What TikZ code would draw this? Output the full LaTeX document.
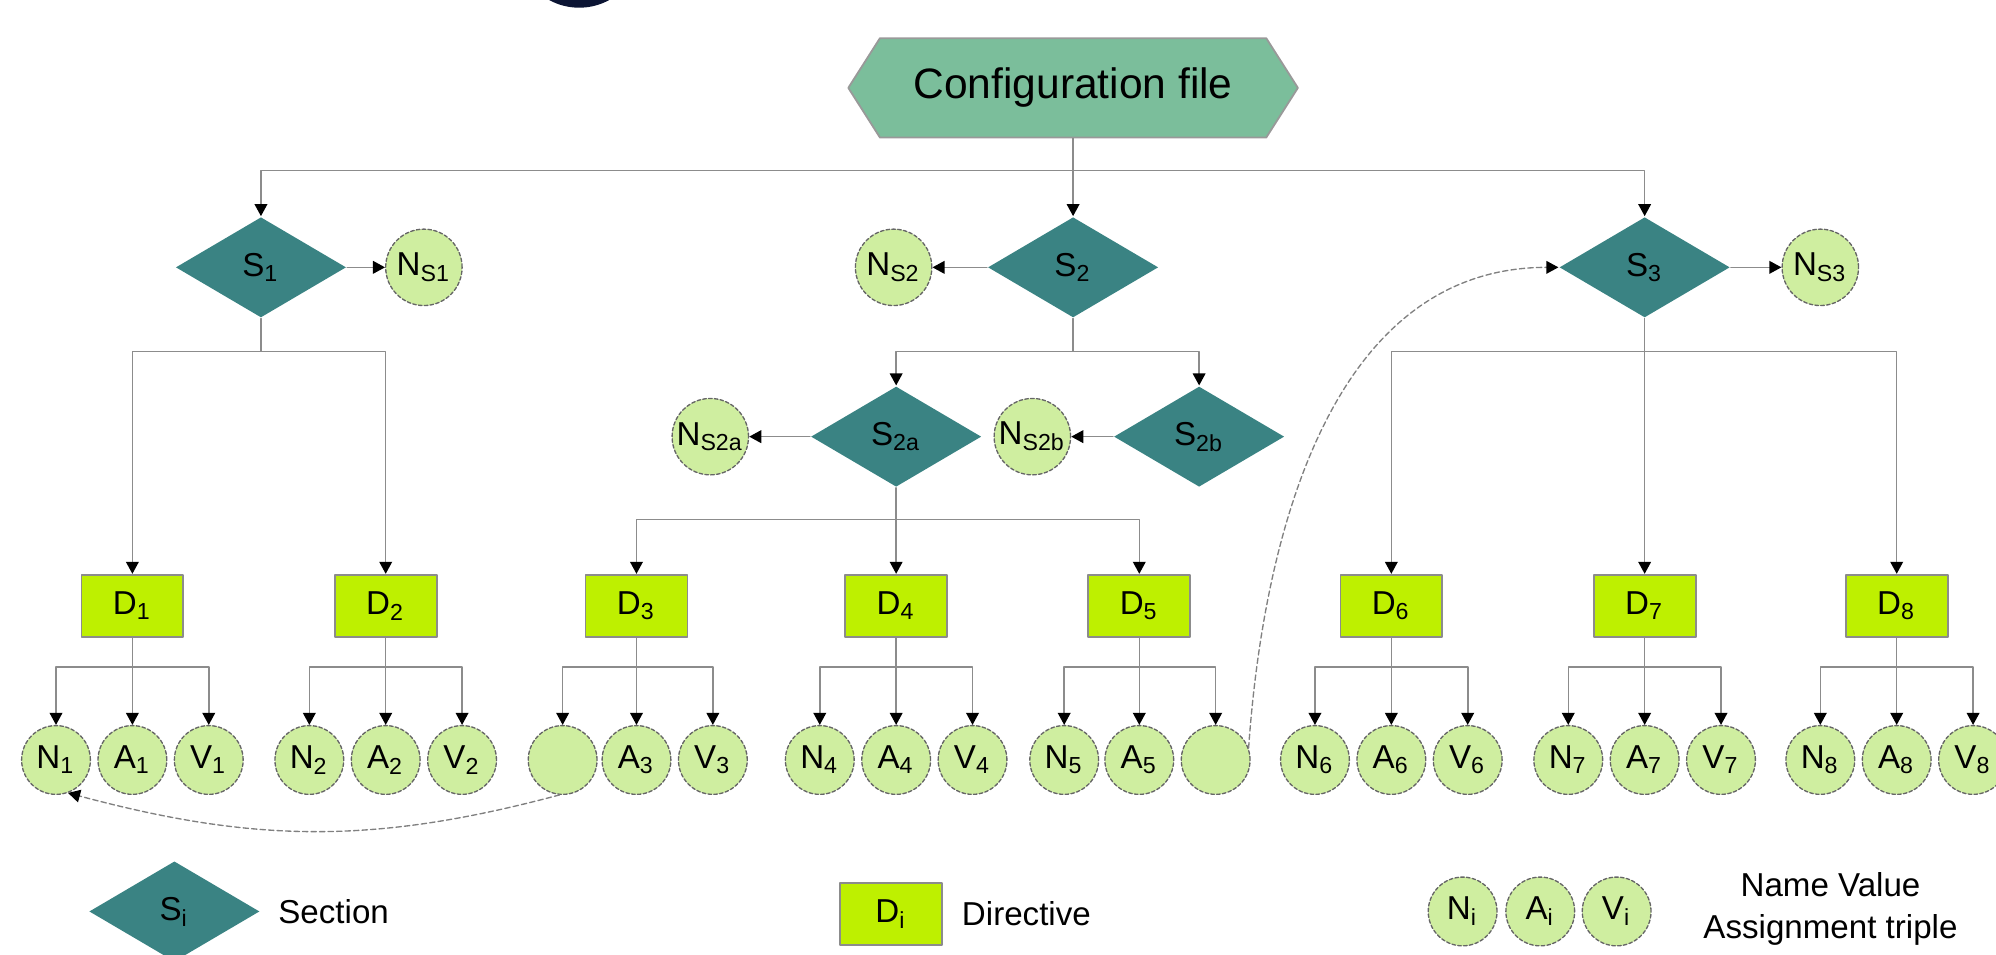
\documentclass[tikz,border=0pt]{standalone}
\usepackage{fontspec}
\setmainfont{Liberation Sans}
\usetikzlibrary{arrows.meta,shapes.geometric,shapes.symbols}
\definecolor{hexgreen}{HTML}{7BBE9B}
\definecolor{secteal}{HTML}{3A8383}
\definecolor{dirlime}{HTML}{BEF000}
\definecolor{navpale}{HTML}{CFEEA0}
\definecolor{navyblob}{HTML}{0B1433}
\newcommand{\sublab}[2]{#1\textsubscript{#2}}

\begin{document}
\begin{tikzpicture}[line cap=round,line join=round,>={Triangle[length=0.95mm,width=1mm,color=black]},x=0.01cm,y=-0.01cm,
	conn/.style={draw=black!45,line width=0.35pt},
	jump/.style={draw=black!50,line width=0.3pt,dash pattern=on 1.2pt off 0.7pt},
	cfgbox/.style={signal,signal to=west and east,signal pointer angle=115,fill=hexgreen,draw=black!40,line width=0.4pt,minimum width=3.53cm,minimum height=0.78cm,inner sep=0pt,font=\fontsize{9.5}{11}\selectfont},
	sect/.style={diamond,fill=secteal,minimum width=1.34cm,minimum height=0.79cm,inner sep=0pt,font=\fontsize{7.4}{8}\selectfont},
	dir/.style={rectangle,fill=dirlime,draw=black!45,line width=0.4pt,minimum width=0.8cm,minimum height=0.49cm,inner sep=0pt,font=\fontsize{7.4}{8}\selectfont},
	nav/.style={circle,fill=navpale,draw=black!60,line width=0.3pt,dash pattern=on 0.8pt off 0.5pt,minimum size=0.54cm,inner sep=0pt,font=\fontsize{7.4}{8}\selectfont},
	nsec/.style={nav,minimum size=0.6cm},
	legtext/.style={align=center,inner sep=0pt,font=\fontsize{7.4}{9.4}\selectfont}]
		\useasboundingbox (0,0) rectangle (1568,750);
		\clip (0,0) rectangle (1568,750);
		\fill [navyblob] (455,-43) circle [radius=0.49cm];
		% sections
		\node [cfgbox] (cfg) at (843,69) {Configuration file};
		\node [sect] (s1) at (205,210) {\sublab{S}{1}};
		\node [nsec] (ns1) at (333,210) {\sublab{N}{S1}};
		\node [sect] (s2) at (843,210) {\sublab{S}{2}};
		\node [nsec] (ns2) at (702,210) {\sublab{N}{S2}};
		\node [sect] (s3) at (1292,210) {\sublab{S}{3}};
		\node [nsec] (ns3) at (1430,210) {\sublab{N}{S3}};
		\node [sect] (s2a) at (704,343) {\sublab{S}{2a}};
		\node [nsec] (ns2a) at (558,343) {\sublab{N}{S2a}};
		\node [sect] (s2b) at (942,343) {\sublab{S}{2b}};
		\node [nsec] (ns2b) at (811,343) {\sublab{N}{S2b}};
		% directives
		\node [dir] (d1) at (104,476) {\sublab{D}{1}};
		\node [dir] (d2) at (303,476) {\sublab{D}{2}};
		\node [dir] (d3) at (500,476) {\sublab{D}{3}};
		\node [dir] (d4) at (704,476) {\sublab{D}{4}};
		\node [dir] (d5) at (895,476) {\sublab{D}{5}};
		\node [dir] (d6) at (1093,476) {\sublab{D}{6}};
		\node [dir] (d7) at (1292,476) {\sublab{D}{7}};
		\node [dir] (d8) at (1490,476) {\sublab{D}{8}};
		% name value triples
		\node [nav] (n1) at (44,597) {\sublab{N}{1}};
		\node [nav] (a1) at (104,597) {\sublab{A}{1}};
		\node [nav] (v1) at (164,597) {\sublab{V}{1}};
		\node [nav] (n2) at (243,597) {\sublab{N}{2}};
		\node [nav] (a2) at (303,597) {\sublab{A}{2}};
		\node [nav] (v2) at (363,597) {\sublab{V}{2}};
		\node [nav] (n3) at (442,597) {};
		\node [nav] (a3) at (500,597) {\sublab{A}{3}};
		\node [nav] (v3) at (560,597) {\sublab{V}{3}};
		\node [nav] (n4) at (644,597) {\sublab{N}{4}};
		\node [nav] (a4) at (704,597) {\sublab{A}{4}};
		\node [nav] (v4) at (764,597) {\sublab{V}{4}};
		\node [nav] (n5) at (836,597) {\sublab{N}{5}};
		\node [nav] (a5) at (895,597) {\sublab{A}{5}};
		\node [nav] (v5) at (955,597) {};
		\node [nav] (n6) at (1033,597) {\sublab{N}{6}};
		\node [nav] (a6) at (1093,597) {\sublab{A}{6}};
		\node [nav] (v6) at (1153,597) {\sublab{V}{6}};
		\node [nav] (n7) at (1232,597) {\sublab{N}{7}};
		\node [nav] (a7) at (1292,597) {\sublab{A}{7}};
		\node [nav] (v7) at (1352,597) {\sublab{V}{7}};
		\node [nav] (n8) at (1430,597) {\sublab{N}{8}};
		\node [nav] (a8) at (1490,597) {\sublab{A}{8}};
		\node [nav] (v8) at (1550,597) {\sublab{V}{8}};
		% junctions
		\coordinate (j0) at (843,134);
		\coordinate (j1) at (205,276);
		\coordinate (j2) at (843,276);
		\coordinate (j3) at (1292,276);
		\coordinate (j2a) at (704,408);
		\coordinate (t1) at (104,524);
		\coordinate (t2) at (303,524);
		\coordinate (t3) at (500,524);
		\coordinate (t4) at (704,524);
		\coordinate (t5) at (895,524);
		\coordinate (t6) at (1093,524);
		\coordinate (t7) at (1292,524);
		\coordinate (t8) at (1490,524);
		% tree connectors
		\draw [conn,->] (cfg.south) -- (s2.north);
		\draw [conn,->] (j0) -| (s1.north);
		\draw [conn,->] (j0) -| (s3.north);
		\draw [conn,->] (s1.east) -- (ns1.west);
		\draw [conn,->] (s2.west) -- (ns2.east);
		\draw [conn,->] (s3.east) -- (ns3.west);
		\draw [conn,->] (s2a.west) -- (ns2a.east);
		\draw [conn,->] (s2b.west) -- (ns2b.east);
		\draw [conn,->] (s1.south) -- (j1) -| (d1.north);
		\draw [conn,->] (j1) -| (d2.north);
		\draw [conn,->] (s2.south) -- (j2) -| (s2a.north);
		\draw [conn,->] (j2) -| (s2b.north);
		\draw [conn,->] (s2a.south) -- (j2a) -| (d3.north);
		\draw [conn,->] (j2a) -- (d4.north);
		\draw [conn,->] (j2a) -| (d5.north);
		\draw [conn,->] (s3.south) -- (j3) -| (d6.north);
		\draw [conn,->] (j3) -- (d7.north);
		\draw [conn,->] (j3) -| (d8.north);
		\draw [conn,->] (d1.south) -- (t1) -| (n1.north);
		\draw [conn,->] (t1) -- (a1.north);
		\draw [conn,->] (t1) -| (v1.north);
		\draw [conn,->] (d2.south) -- (t2) -| (n2.north);
		\draw [conn,->] (t2) -- (a2.north);
		\draw [conn,->] (t2) -| (v2.north);
		\draw [conn,->] (d3.south) -- (t3) -| (n3.north);
		\draw [conn,->] (t3) -- (a3.north);
		\draw [conn,->] (t3) -| (v3.north);
		\draw [conn,->] (d4.south) -- (t4) -| (n4.north);
		\draw [conn,->] (t4) -- (a4.north);
		\draw [conn,->] (t4) -| (v4.north);
		\draw [conn,->] (d5.south) -- (t5) -| (n5.north);
		\draw [conn,->] (t5) -- (a5.north);
		\draw [conn,->] (t5) -| (v5.north);
		\draw [conn,->] (d6.south) -- (t6) -| (n6.north);
		\draw [conn,->] (t6) -- (a6.north);
		\draw [conn,->] (t6) -| (v6.north);
		\draw [conn,->] (d7.south) -- (t7) -| (n7.north);
		\draw [conn,->] (t7) -- (a7.north);
		\draw [conn,->] (t7) -| (v7.north);
		\draw [conn,->] (d8.south) -- (t8) -| (n8.north);
		\draw [conn,->] (t8) -- (a8.north);
		\draw [conn,->] (t8) -| (v8.north);
		% jumps
		\draw [jump,->] (n3.-95) to [out=195,in=-15] (n1.-70);
		\draw [jump,->] (v5.20) to [out=86,in=180] (s3.west);
		% legend
		\node [sect] (ls) at (137,716) {\sublab{S}{i}};
		\node [legtext,anchor=west] (lst) at (218,716) {Section};
		\node [dir] (ld) at (700,718) {\sublab{D}{i}};
		\node [legtext,anchor=west] (ldt) at (755,718) {Directive};
		\node [nav] (ln) at (1149,716) {\sublab{N}{i}};
		\node [nav] (la) at (1210,716) {\sublab{A}{i}};
		\node [nav] (lv) at (1270,716) {\sublab{V}{i}};
		\node [legtext] (lnt) at (1438,714) {Name Value\\Assignment triple};
	\end{tikzpicture}
\end{document}
